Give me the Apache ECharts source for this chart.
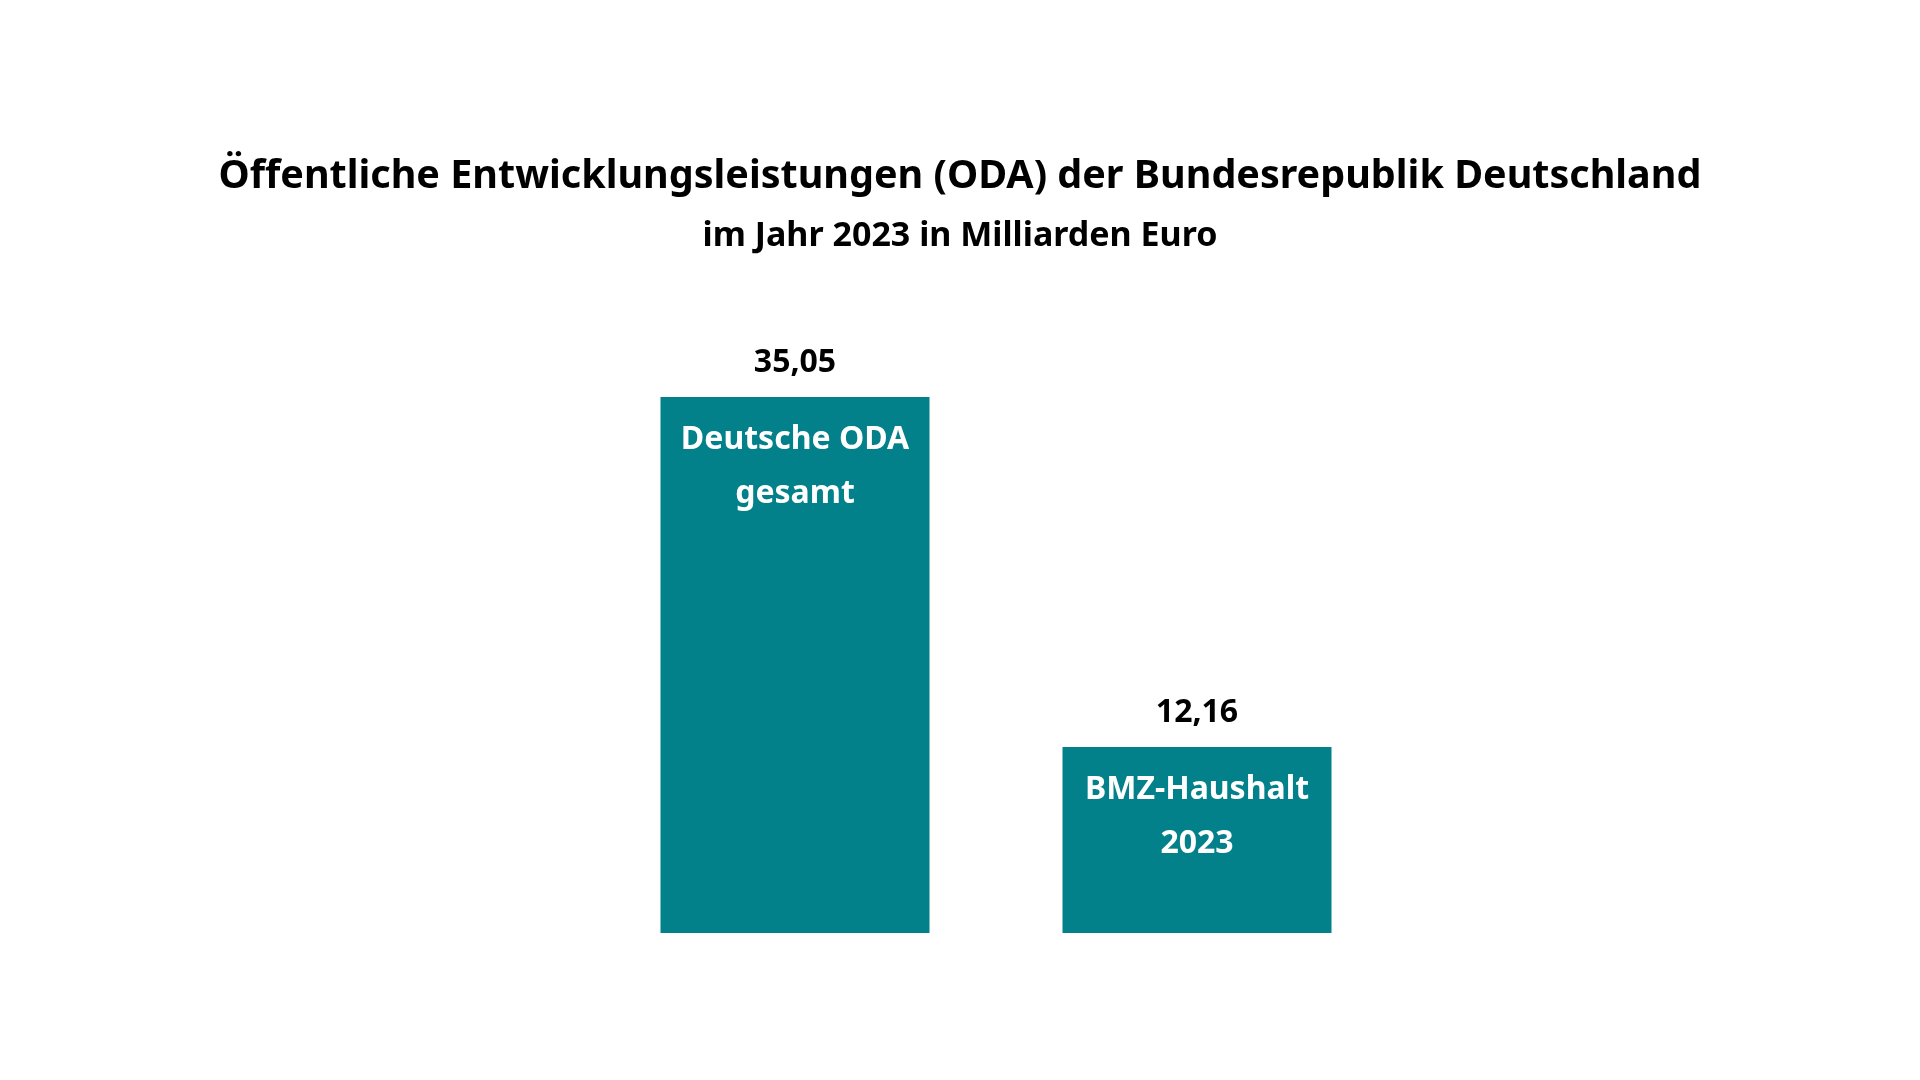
<!DOCTYPE html>
<html>
<head>
<meta charset="utf-8">
<script src="https://cdn.jsdelivr.net/npm/echarts@6/dist/echarts.min.js"></script>
<style>
html,body{margin:0;padding:0;background:#fff;}
#chart{width:1920px;height:1080px;}
</style>
</head>
<body>
<div id="chart"></div>
<script>
var titleText = 'Öffentliche Entwicklungsleistungen (ODA) der Bundesrepublik Deutschland';
var subtitleText = 'im Jahr 2023 in Milliarden Euro';
var categories = ['Deutsche ODA gesamt', 'BMZ-Haushalt 2023'];
var barLabels = ['Deutsche ODA\ngesamt', 'BMZ-Haushalt\n2023'];
var values = [35.05, 12.16];

var FONT = '"Noto Sans", sans-serif';
var TEAL = '#03818a';

var chart = echarts.init(document.getElementById('chart'));
chart.setOption({
  backgroundColor: '#ffffff',
  animation: false,
  title: [
    {
      text: titleText,
      left: 'center',
      top: 150,
      textStyle: {fontFamily: FONT, fontWeight: 'bold', fontSize: 39.5, color: '#000', lineHeight: 44}
    },
    {
      text: subtitleText,
      left: 'center',
      top: 212,
      textStyle: {fontFamily: FONT, fontWeight: 'bold', fontSize: 34, color: '#000', lineHeight: 38}
    }
  ],
  grid: {left: 594, width: 804, top: 397, bottom: 147},
  xAxis: {type: 'category', data: categories, show: false},
  yAxis: {type: 'value', min: 0, max: 35.05, show: false},
  series: [
    {
      type: 'bar',
      data: values,
      barWidth: 269,
      itemStyle: {color: TEAL},
      label: {
        show: true,
        position: 'insideTop',
        distance: 16,
        formatter: function (p) { return barLabels[p.dataIndex]; },
        fontFamily: FONT,
        fontWeight: 'bold',
        fontSize: 32,
        lineHeight: 54,
        color: '#ffffff',
        align: 'center'
      }
    },
    {
      type: 'bar',
      data: values,
      barWidth: 269,
      barGap: '-100%',
      itemStyle: {color: 'rgba(0,0,0,0)'},
      silent: true,
      label: {
        show: true,
        position: 'top',
        distance: 18,
        formatter: function (p) { return p.value.toFixed(2).replace('.', ','); },
        fontFamily: FONT,
        fontWeight: 'bold',
        fontSize: 32,
        color: '#000'
      }
    }
  ]
});
</script>
</body>
</html>
